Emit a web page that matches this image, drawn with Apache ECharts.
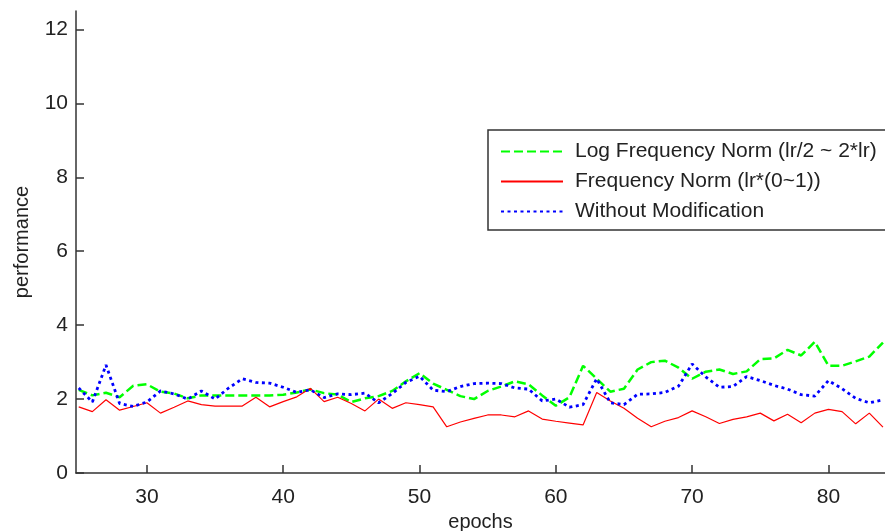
<!DOCTYPE html>
<html>
<head>
<meta charset="utf-8">
<script src="https://cdn.jsdelivr.net/npm/echarts@6/dist/echarts.min.js"></script>
<style>
html,body{margin:0;padding:0;background:#fff;}
#chart{width:885px;height:531px;}
</style>
</head>
<body>
<div id="chart"></div>
<script>
const epochs = [25,26,27,28,29,30,31,32,33,34,35,36,37,38,39,40,41,42,43,44,45,46,47,48,49,50,51,52,53,54,55,56,57,58,59,60,61,62,63,64,65,66,67,68,69,70,71,72,73,74,75,76,77,78,79,80,81,82,83,84];

const logFreqNorm = [2.25,2.10,2.17,2.05,2.36,2.40,2.20,2.15,2.02,2.10,2.10,2.10,2.10,2.10,2.10,2.12,2.18,2.26,2.16,2.12,1.92,2.02,2.08,2.22,2.48,2.70,2.42,2.25,2.08,2.00,2.22,2.34,2.48,2.40,2.10,1.82,2.05,2.90,2.55,2.20,2.28,2.80,3.00,3.04,2.85,2.55,2.74,2.80,2.68,2.75,3.08,3.10,3.33,3.18,3.55,2.90,2.90,3.02,3.15,3.53];

const freqNorm = [1.79,1.66,1.98,1.70,1.80,1.90,1.62,1.78,1.95,1.85,1.81,1.81,1.81,2.05,1.79,1.93,2.06,2.29,1.93,2.05,1.88,1.68,2.00,1.75,1.90,1.85,1.79,1.25,1.38,1.48,1.57,1.57,1.52,1.68,1.46,1.40,1.35,1.30,2.18,1.95,1.75,1.48,1.25,1.40,1.50,1.68,1.52,1.34,1.45,1.52,1.62,1.41,1.59,1.36,1.62,1.72,1.66,1.33,1.62,1.24];

const withoutMod = [2.30,1.92,2.92,1.88,1.80,1.92,2.22,2.14,2.00,2.22,2.00,2.30,2.55,2.45,2.43,2.32,2.18,2.25,2.04,2.14,2.12,2.16,1.90,2.15,2.45,2.62,2.24,2.20,2.34,2.42,2.43,2.42,2.30,2.27,1.95,2.00,1.78,1.85,2.55,1.90,1.85,2.13,2.14,2.18,2.35,2.95,2.60,2.32,2.34,2.61,2.50,2.37,2.27,2.12,2.08,2.50,2.28,2.02,1.90,1.98];

const xTicks = [30,40,50,60,70,80];
const yTicks = [0,2,4,6,8,10,12];

const seriesNames = ['Log Frequency Norm (lr/2 ~ 2*lr)','Frequency Norm (lr*(0~1))','Without Modification'];

function pairs(vals){ return epochs.map((e,i)=>[e, vals[i]]); }

const FONT = '"Liberation Sans", Arial, sans-serif';
const chart = echarts.init(document.getElementById('chart'), null, {renderer:'canvas'});
chart.setOption({
  animation:false,
  backgroundColor:'#ffffff',
  grid:{left:76, right:0, top:11, bottom:58, containLabel:false, outerBoundsMode:'none'},
  xAxis:{
    type:'value', min:24.8, max:84.15,
    name:'epochs', nameLocation:'middle', nameGap:34,
    nameTextStyle:{fontFamily:FONT, fontSize:20, color:'#222'},
    axisLine:{show:true, onZero:false, lineStyle:{color:'#333', width:1.5}},
    axisTick:{show:true, inside:true, length:8, customValues:xTicks, lineStyle:{color:'#333', width:1.5}},
    axisLabel:{customValues:xTicks, margin:14, fontFamily:FONT, fontSize:21, color:'#222'},
    splitLine:{show:false}
  },
  yAxis:{
    type:'value', min:0, max:12.5,
    name:'performance', nameLocation:'middle', nameGap:44,
    nameTextStyle:{fontFamily:FONT, fontSize:20, color:'#222'},
    axisLine:{show:true, onZero:false, lineStyle:{color:'#333', width:1.5}},
    axisTick:{show:true, inside:true, length:8, customValues:yTicks, lineStyle:{color:'#333', width:1.5}},
    axisLabel:{customValues:yTicks, margin:8, fontFamily:FONT, fontSize:21, color:'#222'},
    splitLine:{show:false}
  },
  legend:{
    orient:'vertical', left:488, top:130,
    padding:[11,10,8,12], itemGap:9, itemWidth:62, itemHeight:14,
    itemStyle:{opacity:0},
    backgroundColor:'#ffffff', borderColor:'#333', borderWidth:1.5, borderRadius:0,
    textStyle:{fontFamily:FONT, fontSize:21, color:'#222', padding:[0,0,0,7]},
    data:seriesNames
  },
  series:[
    {name:seriesNames[0], type:'line', data:pairs(logFreqNorm), symbol:'none', smooth:false,
     lineStyle:{color:'#00ff00', width:2.5, type:[9,4]}, itemStyle:{color:'#00ff00'}},
    {name:seriesNames[1], type:'line', data:pairs(freqNorm), symbol:'none',
     lineStyle:{color:'#ff0000', width:1.2}, itemStyle:{color:'#ff0000'}},
    {name:seriesNames[2], type:'line', data:pairs(withoutMod), symbol:'none',
     lineStyle:{color:'#0000ff', width:2.8, type:[3,3.5]}, itemStyle:{color:'#0000ff'}}
  ]
});
</script>
</body>
</html>
